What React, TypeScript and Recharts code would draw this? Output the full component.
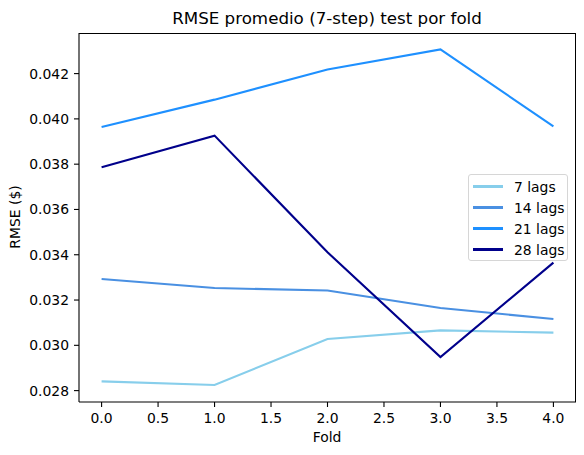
import { Label, Line, LineChart, XAxis, YAxis } from 'recharts'

// values
const folds = [0, 1, 2, 3, 4]
const lags7 = [0.02841, 0.02825, 0.03028, 0.03066, 0.03056]
const lags14 = [0.03293, 0.03253, 0.03242, 0.03165, 0.03116]
const lags21 = [0.03964, 0.04085, 0.04218, 0.04307, 0.03967]
const lags28 = [0.03786, 0.03926, 0.03411, 0.02948, 0.03365]

const xTicks = [0, 0.5, 1, 1.5, 2, 2.5, 3, 3.5, 4]
const yTicks = [0.028, 0.03, 0.032, 0.034, 0.036, 0.038, 0.04, 0.042]

const series = [
  { key: 'lags7', name: '7 lags', color: '#87ceeb' },
  { key: 'lags14', name: '14 lags', color: '#4a90e2' },
  { key: 'lags21', name: '21 lags', color: '#1e90ff' },
  { key: 'lags28', name: '28 lags', color: '#00008b' },
]

const data = folds.map((fold, i) => ({
  fold,
  lags7: lags7[i],
  lags14: lags14[i],
  lags21: lags21[i],
  lags28: lags28[i],
}))

const FONT = '"DejaVu Sans", sans-serif'
const tickStyle = { fontFamily: FONT, fontSize: 13.9, fill: '#000' }

function LegendBox() {
  return (
    <div
      style={{
        position: 'absolute',
        left: 468,
        top: 174,
        width: 100,
        height: 87,
        boxSizing: 'border-box',
        border: '1px solid #d6d6d6',
        borderRadius: 3,
        background: 'rgba(255,255,255,0.8)',
        padding: '1px 0 0 4px',
        fontFamily: FONT,
        fontSize: 13.9,
        color: '#000',
      }}
    >
      {series.map((s) => (
        <div key={s.key} style={{ display: 'flex', alignItems: 'center', height: 21 }}>
          <span style={{ width: 30, height: 2.1, background: s.color, marginRight: 11 }} />
          <span>{s.name}</span>
        </div>
      ))}
    </div>
  )
}

export default function App() {
  return (
    <div style={{ position: 'absolute', left: 0, top: 0, width: 584, height: 455, background: '#fff' }}>
      <svg width={584} height={30} style={{ position: 'absolute', left: 0, top: 0 }}>
        <text x={327} y={24} textAnchor="middle" fontFamily={FONT} fontSize={16.7} fill="#000">
          RMSE promedio (7-step) test por fold
        </text>
      </svg>
      <LineChart
        width={584}
        height={455}
        data={data}
        margin={{ top: 33, right: 8, bottom: 0, left: 0 }}
      >
        <XAxis
          dataKey="fold"
          type="number"
          domain={[-0.2, 4.2]}
          ticks={xTicks}
          tickFormatter={(v: number) => v.toFixed(1)}
          allowDataOverflow
          height={53}
          tickSize={5}
          tickMargin={6}
          tick={tickStyle}
          stroke="#000"
          tickLine={{ stroke: '#000', strokeWidth: 1.1 }}
          axisLine={{ stroke: '#000', strokeWidth: 1.1 }}
        >
          <Label
            content={() => (
              <text x={327} y={442} textAnchor="middle" fontFamily={FONT} fontSize={13.9} fill="#000">
                Fold
              </text>
            )}
          />
        </XAxis>
        <YAxis
          type="number"
          domain={[0.027497, 0.043793]}
          ticks={yTicks}
          tickFormatter={(v: number) => v.toFixed(3)}
          allowDataOverflow
          width={79}
          tickSize={5}
          tickMargin={5}
          tick={tickStyle}
          stroke="#000"
          tickLine={{ stroke: '#000', strokeWidth: 1.1 }}
          axisLine={{ stroke: '#000', strokeWidth: 1.1 }}
        >
          <Label
            content={() => (
              <text
                x={20}
                y={217}
                transform="rotate(-90 20 217)"
                textAnchor="middle"
                fontFamily={FONT}
                fontSize={13.9}
                fill="#000"
              >
                RMSE ($)
              </text>
            )}
          />
        </YAxis>
        {series.map((s) => (
          <Line
            key={s.key}
            type="linear"
            dataKey={s.key}
            name={s.name}
            stroke={s.color}
            strokeWidth={2.1}
            dot={false}
            activeDot={false}
            isAnimationActive={false}
          />
        ))}
      </LineChart>
      {/* top and right spines */}
      <div
        style={{
          position: 'absolute',
          left: 79,
          top: 32.5,
          width: 496.5,
          height: 369.5,
          boxSizing: 'border-box',
          borderTop: '1.1px solid #000',
          borderRight: '1.1px solid #000',
          pointerEvents: 'none',
        }}
      />
      <LegendBox />
    </div>
  )
}
